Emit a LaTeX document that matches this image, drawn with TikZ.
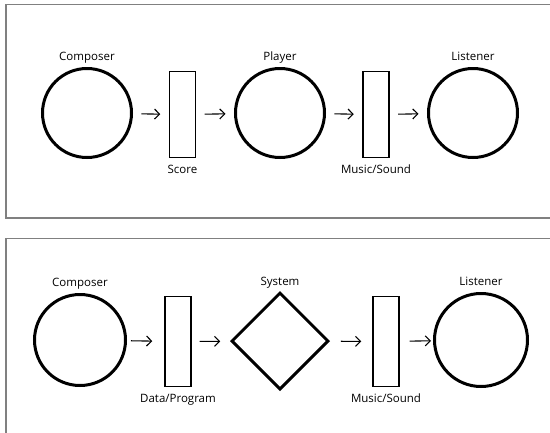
\documentclass[tikz,border=0pt]{standalone}
\usepackage{fontspec}
\setmainfont{Open Sans}
\usetikzlibrary{shapes.geometric, arrows.meta}

\tikzset{
  person/.style={draw, circle, line width=3pt, inner sep=0pt, minimum size=89pt},
  medium/.style={draw, rectangle, line width=1.4pt, inner sep=0pt, minimum width=26pt, minimum height=86pt},
  flow/.style={-{Straight Barb[length=5pt, width=10pt, line width=1.1pt]}, line width=1.1pt, shorten >=8.5pt, shorten <=8.5pt},
  panel/.style={draw=gray, line width=1.2pt},
  below label/.style={label={[label distance=3pt]below:#1}},
  every label/.append style={text height=0.75em, text depth=0.25em}
}

\begin{document}
\begin{tikzpicture}[x=1pt, y=-1pt]
			\useasboundingbox (0,0) rectangle (550,432);
			\clip (0,0) rectangle (550,432);
			\fontsize{11.5}{14}\selectfont

			% Panels
			\draw[panel] (570,4.5) -- (6,4.5) -- (6,218) -- (570,218);
			\draw[panel] (570,238.5) -- (6,238.5) -- (6,450);

			% Traditional chain
			\node[person, label=above:Composer] (comp) at (87,113) {};
			\node[medium, below label=Score] (score) at (182.5,114.5) {};
			\node[person, label=above:Player] (play) at (280,113) {};
			\node[medium, below label=Music/Sound] (sound) at (376,114.5) {};
			\node[person, label=above:Listener] (lis) at (473,113) {};

			\draw[flow] (comp) -- (score);
			\draw[flow] (score) -- (play);
			\draw[flow] (play) -- (sound);
			\draw[flow] (sound) -- (lis);

			% Computer chain
			\node[person, minimum size=91pt, label=above:Composer] (comp2) at (80,340) {};
			\node[medium, minimum height=90pt, below label=Data/Program] (data) at (178,341.5) {};
			\node[draw, diamond, line width=3pt, inner sep=0pt, minimum size=97pt, label={[yshift=-1pt]above:System}] (sys) at (280,341) {};
			\node[medium, minimum height=90pt, below label=Music/Sound] (sound2) at (386,341.5) {};
			\node[person, minimum size=93pt, label=above:Listener] (lis2) at (481,340) {};

			\draw[flow, shorten <=4pt, shorten >=12pt] (comp2) -- (data);
			\draw[flow, shorten <=8pt, shorten >=10pt] (data) -- (sys);
			\draw[flow, shorten <=11pt, shorten >=11pt] (sys) -- (sound2);
			\draw[flow, shorten <=10pt, shorten >=2pt] (sound2) -- (lis2);
		\end{tikzpicture}
\end{document}
